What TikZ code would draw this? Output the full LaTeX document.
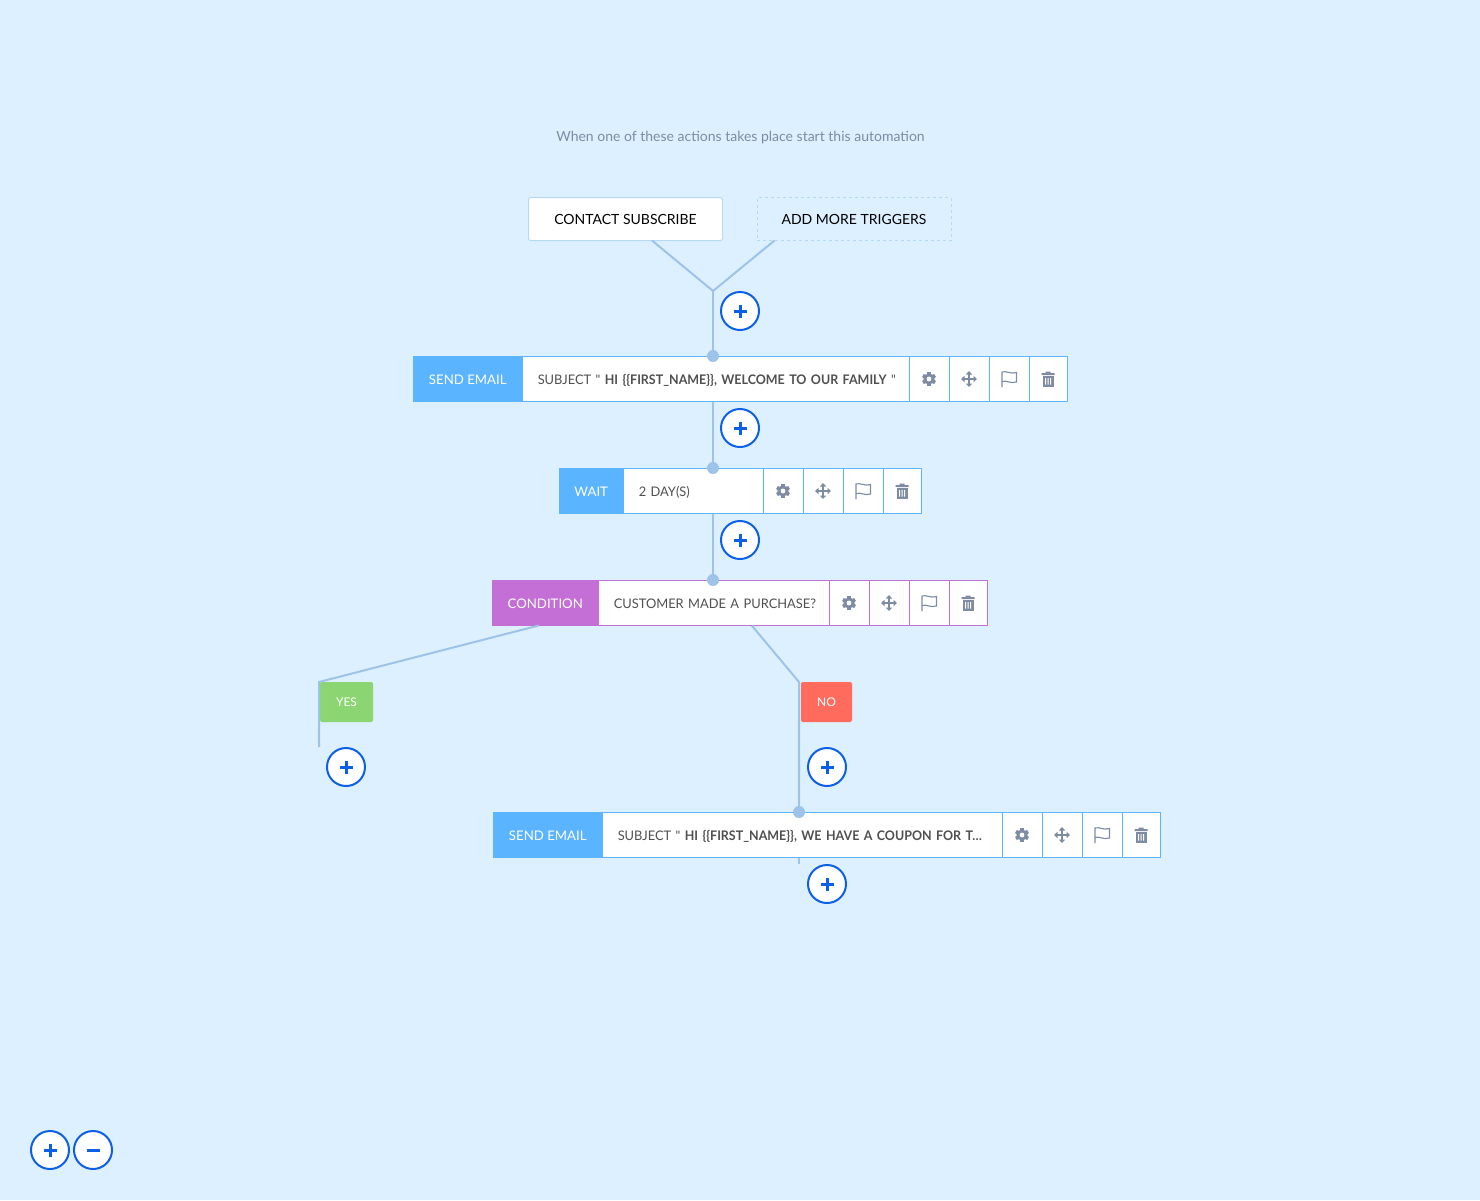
\documentclass[tikz,border=0pt]{standalone}
\usepackage{fontspec}
\setmainfont{Lato}
\newfontfamily\rowfont{Lato}[UprightFeatures={FakeStretch=0.975},BoldFeatures={FakeStretch=0.945}]
\usetikzlibrary{positioning}
\definecolor{pagebg}{HTML}{DDF0FF}
\definecolor{wirecol}{HTML}{9DC3E8}
\definecolor{plusblue}{HTML}{0B5FE8}
\definecolor{mailblue}{HTML}{5AB4FF}
\definecolor{condpurple}{HTML}{C36FD6}
\definecolor{yesgreen}{HTML}{8BD672}
\definecolor{nored}{HTML}{FF6B5C}
\definecolor{iconcol}{HTML}{7E8CA3}
\definecolor{rowtext}{HTML}{505050}
\definecolor{trigborder}{HTML}{B7DAF3}
\tikzset{
  wire/.style={draw=wirecol,line width=2pt},
  rowbar/.style={draw=#1,line width=1pt,outer sep=0pt,minimum height=45pt},
  kindbox/.style={rowbar=#1,fill=#1,text=white,inner xsep=0pt,text height=10pt,text depth=0pt,font=\fontsize{13.2}{16}\selectfont},
  textbox/.style n args={2}{rowbar=#1,fill=white,text=rowtext,inner xsep=15.25pt,text width=#2,align=left,text height=10pt,text depth=0pt,font=\rowfont\fontsize{13.2}{16}\selectfont},
  cellbox/.style n args={2}{rowbar=#1,fill=white,minimum width=#2,inner sep=0pt},
  gearcell/.style={cellbox={#1}{40pt},path picture={
    \begin{scope}[shift={(path picture bounding box.center)}]
      \foreach \a in {30,90,150} \draw[iconcol,line width=3.6pt] (\a:-7) -- (\a:7);
      \fill[iconcol] (0,0) circle (5.6);
      \fill[white] (0,0) circle (2.4);
    \end{scope}}},
  movecell/.style={cellbox={#1}{40pt},path picture={
    \begin{scope}[shift={(path picture bounding box.center)}]
      \draw[iconcol,line width=1.6pt] (-6,0) -- (6,0) (0,-6) -- (0,6);
      \fill[iconcol] (-8,0) -- (-4.5,-3.2) -- (-4.5,3.2) -- cycle
        (8,0) -- (4.5,-3.2) -- (4.5,3.2) -- cycle
        (0,-8) -- (-3.2,-4.5) -- (3.2,-4.5) -- cycle
        (0,8) -- (-3.2,4.5) -- (3.2,4.5) -- cycle;
    \end{scope}}},
  flagcell/.style={cellbox={#1}{40pt},path picture={
    \begin{scope}[shift={(path picture bounding box.center)}]
      \draw[iconcol,line width=1.1pt] (-7,8) -- (-7,-7)
        .. controls (-3,-8.5) and (2,-4.5) .. (7.5,-6.5) -- (7.5,3)
        .. controls (2,5) and (-3,1) .. (-7,2.5);
    \end{scope}}},
  trashcell/.style={cellbox={#1}{38pt},path picture={
    \begin{scope}[shift={(path picture bounding box.center)}]
      \fill[iconcol] (-6.5,-6) rectangle (6.5,-4) (-2.5,-7.5) rectangle (2.5,-5.5);
      \fill[iconcol] (-5.5,-3) rectangle (5.5,7.5);
      \fill[white] (-3,-1) rectangle (-2,5.5) (-0.5,-1) rectangle (0.5,5.5) (2,-1) rectangle (3,5.5);
    \end{scope}}},
  dotnode/.style={circle,fill=wirecol,inner sep=0pt,minimum size=12pt},
  plusbtn/.style={circle,draw=plusblue,fill=white,line width=2pt,minimum size=38pt,inner sep=0pt,path picture={
    \draw[plusblue,line width=3pt] ([xshift=-6.5pt]path picture bounding box.center) -- ([xshift=6.5pt]path picture bounding box.center)
      ([yshift=-6.5pt]path picture bounding box.center) -- ([yshift=6.5pt]path picture bounding box.center);}},
  minusbtn/.style={circle,draw=plusblue,fill=white,line width=2pt,minimum size=38pt,inner sep=0pt,path picture={
    \draw[plusblue,line width=3pt] ([xshift=-6.5pt]path picture bounding box.center) -- ([xshift=6.5pt]path picture bounding box.center);}},
  trigbox/.style={draw=trigborder,line width=1pt,outer sep=0pt,minimum width=194pt,minimum height=43pt,text=black,font=\fontsize{14}{16}\selectfont},
  flagbox/.style={fill=#1,rounded corners=2pt,minimum height=40pt,text=white,outer sep=0pt,inner sep=0pt,font=\fontsize{12}{14}\selectfont}
}
\begin{document}
\begin{tikzpicture}[x=1pt,y=-1pt]
    \useasboundingbox (0,0) rectangle (1480,1200);
    \fill[pagebg] (0,0) rectangle (1480,1200);

    \node[text=iconcol,font=\fontsize{14}{16}\selectfont] (intro) at (740.5,138) {When one of these actions takes place start this automation};

    % triggers
    \node[trigbox,fill=white,rounded corners=2pt] (contact) at (625.5,219) {CONTACT SUBSCRIBE};
    \node[trigbox,dashed] (addmore) at (854,219) {ADD MORE TRIGGERS};
    \coordinate (fork) at (713,291);

    % first email
    \node[kindbox=mailblue,minimum width=109.5pt] (mail_a) at (467.75,379) {SEND EMAIL};
    \node[textbox={mailblue}{356pt},right=0pt of mail_a] (mail_a_text) {\mbox{SUBJECT " \textbf{HI \{\{FIRST\_NAME\}\}, WELCOME TO OUR FAMILY} "}};
    \node[gearcell=mailblue,right=0pt of mail_a_text] (mail_a_gear) {};
    \node[movecell=mailblue,right=0pt of mail_a_gear] (mail_a_move) {};
    \node[flagcell=mailblue,right=0pt of mail_a_move] (mail_a_flag) {};
    \node[trashcell=mailblue,right=0pt of mail_a_flag] (mail_a_trash) {};

    % wait
    \node[kindbox=mailblue,minimum width=64.5pt] (wait) at (591.25,491) {WAIT};
    \node[textbox={mailblue}{109pt},right=0pt of wait] (wait_text) {2 DAY(S)};
    \node[gearcell=mailblue,right=0pt of wait_text] (wait_gear) {};
    \node[movecell=mailblue,right=0pt of wait_gear] (wait_move) {};
    \node[flagcell=mailblue,right=0pt of wait_move] (wait_flag) {};
    \node[trashcell=mailblue,right=0pt of wait_flag] (wait_trash) {};

    % condition
    \node[kindbox=condpurple,minimum width=106.5pt] (cond) at (545.25,603) {CONDITION};
    \node[textbox={condpurple}{200pt},right=0pt of cond] (cond_text) {\mbox{CUSTOMER MADE A PURCHASE?}};
    \node[gearcell=condpurple,right=0pt of cond_text] (cond_gear) {};
    \node[movecell=condpurple,right=0pt of cond_gear] (cond_move) {};
    \node[flagcell=condpurple,right=0pt of cond_move] (cond_flag) {};
    \node[trashcell=condpurple,right=0pt of cond_flag] (cond_trash) {};

    % second email
    \node[kindbox=mailblue,minimum width=109.5pt] (mail_b) at (547.75,835) {SEND EMAIL};
    \node[textbox={mailblue}{369pt},right=0pt of mail_b] (mail_b_text) {\mbox{SUBJECT " \textbf{HI \{\{FIRST\_NAME\}\}, WE HAVE A COUPON FOR T…}}};
    \node[gearcell=mailblue,right=0pt of mail_b_text] (mail_b_gear) {};
    \node[movecell=mailblue,right=0pt of mail_b_gear] (mail_b_move) {};
    \node[flagcell=mailblue,right=0pt of mail_b_move] (mail_b_flag) {};
    \node[trashcell=mailblue,right=0pt of mail_b_flag] (mail_b_trash) {};

    % branches
    \node[flagbox=yesgreen,minimum width=53pt] (yes) at (346.5,702) {YES};
    \node[flagbox=nored,minimum width=51pt] (no) at (826.5,702) {NO};
    \coordinate (yes_bend) at (319,682);
    \coordinate (yes_end) at (319,747);
    \coordinate (no_bend) at (799,682);
    \coordinate (tail_end) at (799,864);

    % dots on the rows
    \node[dotnode] (dot_a) at (713,356) {};
    \node[dotnode] (dot_b) at (713,468) {};
    \node[dotnode] (dot_c) at (713,580) {};
    \node[dotnode] (dot_d) at (799,812) {};

    % add buttons
    \node[plusbtn] (add_a) at (740,311) {};
    \node[plusbtn] (add_b) at (740,428) {};
    \node[plusbtn] (add_c) at (740,540) {};
    \node[plusbtn] (add_yes) at (346,767) {};
    \node[plusbtn] (add_no) at (827,767) {};
    \node[plusbtn] (add_d) at (827,884) {};
    \node[plusbtn] (zoom_in) at (50,1150) {};
    \node[minusbtn] (zoom_out) at (93,1150) {};

    \draw[wire] ([xshift=26.5pt]contact.south) -- (fork);
    \draw[wire] ([xshift=-79.5pt]addmore.south) -- (fork);
    \draw[wire] (fork) -- (dot_a);
    \draw[wire] (dot_a |- mail_a_text.south) -- (dot_b);
    \draw[wire] (dot_b |- wait_text.south) -- (dot_c);
    \draw[wire,line join=round] ([xshift=-6.5pt]cond.south) -- (yes_bend) -- (yes_end);
    \draw[wire,line join=round] ([xshift=38pt]cond_text.south) -- (no_bend) -- (dot_d);
    \draw[wire] (dot_d |- mail_b_text.south) -- (tail_end);
\end{tikzpicture}
\end{document}
